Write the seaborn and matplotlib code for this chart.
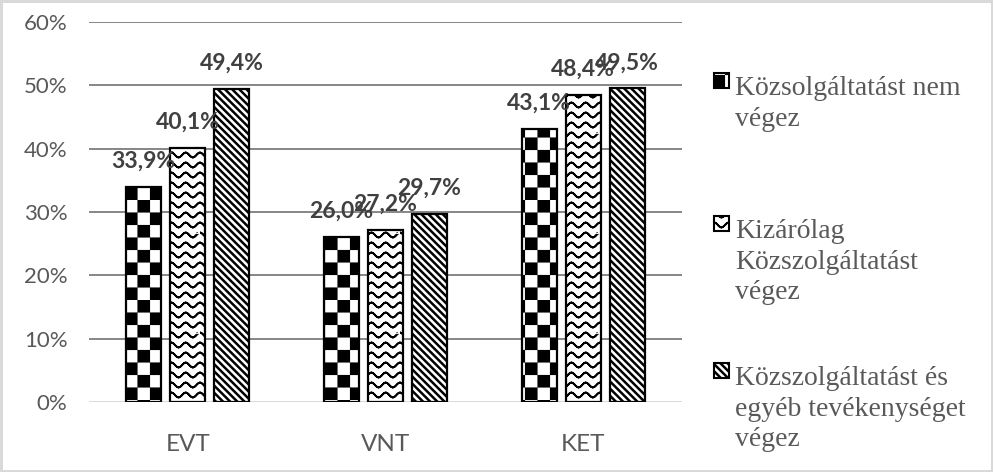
import warnings
import numpy as np
import pandas as pd
import matplotlib
matplotlib.use('Agg')
import matplotlib.pyplot as plt
import matplotlib.hatch as mhatch
from matplotlib.path import Path
from matplotlib.patches import Rectangle
from matplotlib.ticker import FuncFormatter
import seaborn as sns

warnings.filterwarnings('ignore')

# adatok
categories = ['EVT', 'VNT', 'KET']
series_names = ['Közsolgáltatást nem végez',
                'Kizárólag Közszolgáltatást végez',
                'Közszolgáltatást és egyéb tevékenységet végez']
legend_labels = ['Közsolgáltatást nem\nvégez',
                 'Kizárólag\nKözszolgáltatást\nvégez',
                 'Közszolgáltatást és\negyéb tevékenységet\nvégez']
nem_vegez = [33.9, 26.0, 43.1]
kizarolag = [40.1, 27.2, 48.4]
egyeb_is = [49.4, 29.7, 49.5]
y_ticks = [0, 10, 20, 30, 40, 50, 60]


# --- saját mintázatok (sakktábla, hullám, sűrű ferde csík) ---
class CheckerHatch(mhatch.HatchPatternBase):
    def __init__(self, hatch, density):
        self.n = 8 if 'c' in hatch else 0
        self.num_vertices = (self.n * self.n // 2) * 5

    def set_vertices_and_codes(self, vertices, codes):
        s = 1.0 / self.n
        k = 0
        for i in range(self.n):
            for j in range(self.n):
                if (i + j) % 2 == 0:
                    x0, y0 = i * s, j * s
                    vertices[k:k + 5] = [(x0, y0), (x0 + s, y0), (x0 + s, y0 + s),
                                         (x0, y0 + s), (x0, y0)]
                    codes[k] = Path.MOVETO
                    codes[k + 1:k + 4] = Path.LINETO
                    codes[k + 4] = Path.CLOSEPOLY
                    k += 5


class WaveHatch(mhatch.HatchPatternBase):
    rows, periods, steps = 10, 7, 10

    def __init__(self, hatch, density):
        self.npts = self.periods * self.steps + 1
        self.num_vertices = self.rows * (2 * self.npts - 1) if 'w' in hatch else 0

    def set_vertices_and_codes(self, vertices, codes):
        x = np.linspace(0, 1, self.npts)
        k = 0
        for r in range(self.rows):
            y = (r + 0.5) / self.rows + 0.025 * np.cos(2 * np.pi * self.periods * x)
            fwd = np.column_stack([x, y])
            pts = np.vstack([fwd, fwd[-2::-1]])
            m = len(pts)
            vertices[k:k + m] = pts
            codes[k] = Path.MOVETO
            codes[k + 1:k + m] = Path.LINETO
            k += m


class StripeHatch(mhatch.HatchPatternBase):
    def __init__(self, hatch, density):
        self.m = 14 if 'd' in hatch else 0
        self.c = np.arange(-1, 2 * self.m + 2) / self.m if self.m else np.array([])
        self.num_vertices = len(self.c) * 2

    def set_vertices_and_codes(self, vertices, codes):
        vertices[0::2, 0] = self.c - 1
        vertices[0::2, 1] = 1.0
        vertices[1::2, 0] = self.c
        vertices[1::2, 1] = 0.0
        codes[0::2] = Path.MOVETO
        codes[1::2] = Path.LINETO


mhatch._hatch_types.extend([CheckerHatch, WaveHatch, StripeHatch])
hatches = ['c', 'w', 'd']
hatch_lw = [0.1, 1.3, 1.8]

# --- stílus ---
sns.set_theme(style='white')
plt.rcParams['font.family'] = ['Lato', 'DejaVu Sans']
plt.rcParams['hatch.linewidth'] = 1.4

df = pd.DataFrame({
    'kategoria': categories * 3,
    'csoport': np.repeat(series_names, 3),
    'arany': nem_vegez + kizarolag + egyeb_is,
})

fig = plt.figure(figsize=(9.93, 4.72), dpi=100)
fig.patch.set_edgecolor('#d9d9d9')
fig.patch.set_linewidth(2.5)
ax = fig.add_axes([0.0896, 0.1483, 0.5972, 0.8051])

sns.barplot(data=df, x='kategoria', y='arany', hue='csoport', hue_order=series_names,
            palette=['white'] * 3, saturation=1, width=0.668, gap=0.2,
            edgecolor='black', linewidth=1.6, errorbar=None, legend=False, ax=ax)

for cont, h, hlw, vals in zip(ax.containers, hatches, hatch_lw,
                              [nem_vegez, kizarolag, egyeb_is]):
    for bar in cont:
        bar.set_hatch(h)
        if hasattr(bar, 'set_hatch_linewidth'):
            bar.set_hatch_linewidth(hlw)
    ax.bar_label(cont, labels=[f'{v:.1f}%'.replace('.', ',') for v in vals],
                 padding=11, fontsize=16.5, fontweight='bold', color='#404040')

ax.set_ylim(0, 60)
ax.set_yticks(y_ticks)
ax.yaxis.set_major_formatter(FuncFormatter(lambda v, p: f'{v:.0f}%'))
ax.yaxis.grid(True, color='#868686', linewidth=1.4)
ax.set_axisbelow(True)
ax.get_ygridlines()[0].set_color('#d9d9d9')
for s in ax.spines.values():
    s.set_visible(False)
ax.set_xlabel('')
ax.set_ylabel('')
ax.tick_params(axis='y', length=0, pad=15.5, labelsize=16, labelcolor='#595959')
ax.tick_params(axis='x', length=0, pad=23, labelsize=17.5, labelcolor='#595959')

# jelmagyarázat kézzel (a minta az első sorhoz igazodik)
legend_baselines = [92, 235, 382]
for lab, h, hlw, yb in zip(legend_labels, hatches, hatch_lw, legend_baselines):
    fig.text(735 / 993, 1 - (yb - 16) / 472, lab, va='top', ha='left',
             fontsize=20, color='#595959', linespacing=1.3,
             family=['Liberation Serif', 'DejaVu Serif'])
    r = Rectangle((714 / 993, 1 - (yb - 4) / 472), 15 / 993, 15 / 472,
                  transform=fig.transFigure, facecolor='white', edgecolor='black',
                  linewidth=1.5, hatch=h)
    if hasattr(r, 'set_hatch_linewidth'):
        r.set_hatch_linewidth(hlw)
    fig.add_artist(r)

fig.savefig('out.png', dpi=100)
